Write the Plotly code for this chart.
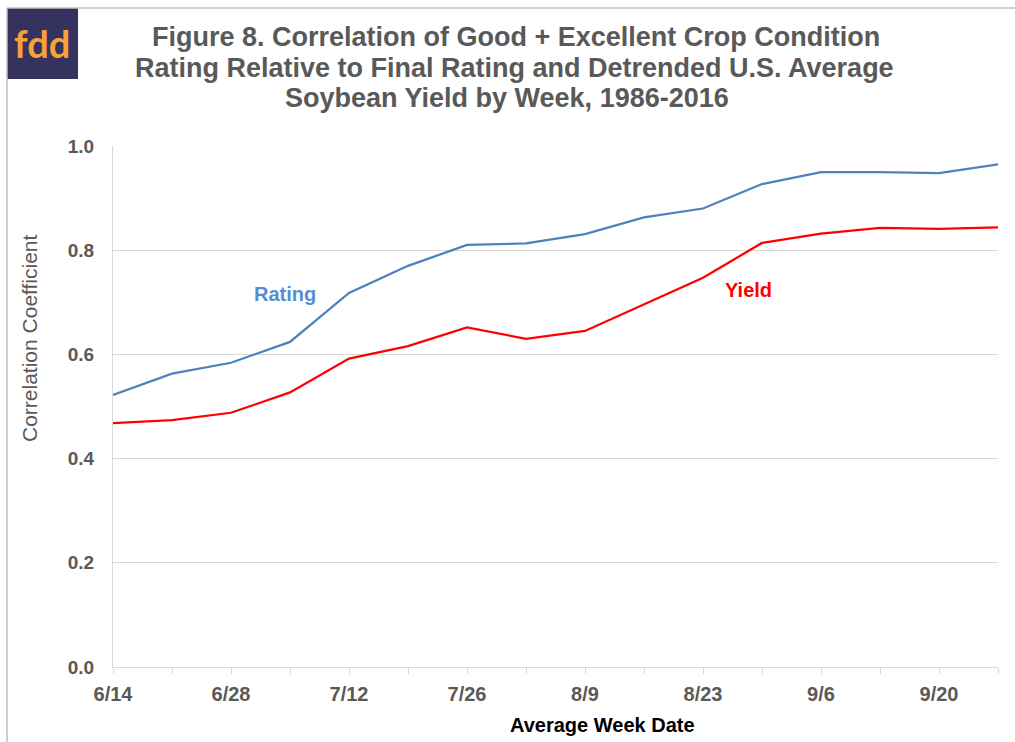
import plotly.graph_objects as go

weeks = ["6/14", "6/21", "6/28", "7/5", "7/12", "7/19", "7/26", "8/2",
         "8/9", "8/16", "8/23", "8/30", "9/6", "9/13", "9/20", "9/27"]
rating = [0.522, 0.563, 0.584, 0.624, 0.718, 0.770, 0.810, 0.813,
          0.831, 0.863, 0.880, 0.927, 0.950, 0.950, 0.948, 0.965]
yield_corr = [0.468, 0.474, 0.488, 0.527, 0.592, 0.616, 0.652, 0.630,
              0.645, 0.696, 0.747, 0.814, 0.832, 0.843, 0.841, 0.844]
tick_labels = [w if i % 2 == 0 else "" for i, w in enumerate(weeks)]
y_ticks = [0.0, 0.2, 0.4, 0.6, 0.8, 1.0]

W, H = 1015, 742
L, R, T, B = 113, 998, 146, 667


def px(x):
    return (x - L) / (R - L)


def py(y):
    return (B - y) / (B - T)


FONT = "Arial, Liberation Sans, sans-serif"
GRAY = "#595959"

fig = go.Figure()
fig.add_trace(go.Scatter(x=weeks, y=rating, mode="lines", name="Rating",
                         line=dict(color="#4f81bd", width=2.25)))
fig.add_trace(go.Scatter(x=weeks, y=yield_corr, mode="lines", name="Yield",
                         line=dict(color="#ff0000", width=2.25)))

fig.update_layout(
    width=W, height=H,
    margin=dict(l=L, r=W - R, t=T, b=H - B),
    paper_bgcolor="white", plot_bgcolor="white",
    showlegend=False,
    font=dict(family=FONT, color=GRAY),
)
fig.update_xaxes(
    type="category", range=[0, len(weeks) - 1],
    tickmode="array", tickvals=weeks, ticktext=tick_labels,
    ticks="outside", ticklen=6, tickcolor="#d9d9d9",
    showline=True, linecolor="#d9d9d9", linewidth=1,
    showgrid=False, ticklabelstandoff=3,
    tickfont=dict(family=FONT, size=20, color=GRAY, weight="bold"),
)
fig.update_yaxes(
    range=[0, 1], tickmode="array", tickvals=y_ticks,
    ticktext=[f"{v:.1f}" for v in y_ticks],
    showline=True, linecolor="#d9d9d9", linewidth=1,
    showgrid=True, gridcolor="#d9d9d9", gridwidth=1,
    zeroline=False, ticks="", ticklabelstandoff=14,
    tickfont=dict(family=FONT, size=19, color=GRAY, weight="bold"),
)

shapes = [
    dict(type="rect", xref="paper", yref="paper",
         x0=px(7), x1=px(78), y0=py(79), y1=py(8),
         fillcolor="#35325f", line=dict(width=0), layer="above"),
    dict(type="line", xref="paper", yref="paper",
         x0=px(7), x1=px(7), y0=py(742), y1=py(8),
         line=dict(color="#bfbfbf", width=1.5)),
    dict(type="line", xref="paper", yref="paper",
         x0=px(7), x1=px(1015), y0=py(8), y1=py(8),
         line=dict(color="#bfbfbf", width=1.5)),
]
fig.update_layout(shapes=shapes)

title_lines = [
    ("Figure 8. Correlation of Good + Excellent Crop Condition", 516, 37),
    ("Rating Relative to Final Rating and Detrended U.S. Average", 514, 68),
    ("Soybean Yield by Week, 1986-2016", 507, 98),
]
ann = []
for text, x, y in title_lines:
    ann.append(dict(text=text, x=px(x), y=py(y), xref="paper", yref="paper",
                    xanchor="center", yanchor="middle", showarrow=False,
                    font=dict(family=FONT, size=27, color=GRAY, weight="bold")))
ann += [
    dict(text="fdd", x=px(42), y=py(43), xref="paper", yref="paper",
         xanchor="center", yanchor="middle", showarrow=False,
         font=dict(family="Lato, Arial, sans-serif", size=38, color="#f7a234",
                   weight="bold")),
    dict(text="Rating", x=px(285), y=py(294), xref="paper", yref="paper",
         xanchor="center", yanchor="middle", showarrow=False,
         font=dict(family=FONT, size=20, color="#558ed5", weight="bold")),
    dict(text="Yield", x=px(748), y=py(290), xref="paper", yref="paper",
         xanchor="center", yanchor="middle", showarrow=False,
         font=dict(family=FONT, size=20, color="#ff0000", weight="bold")),
    dict(text="Average Week Date", x=px(602), y=py(725), xref="paper", yref="paper",
         xanchor="center", yanchor="middle", showarrow=False,
         font=dict(family=FONT, size=20, color="#000000", weight="bold")),
    dict(text="Correlation Coefficient", x=px(29), y=py(338), xref="paper", yref="paper",
         xanchor="center", yanchor="middle", showarrow=False, textangle=-90,
         font=dict(family=FONT, size=21, color=GRAY)),
]
fig.update_layout(annotations=ann)

fig.write_html("out.html", config={"displayModeBar": False},
               post_script="document.body.style.margin='0';document.body.style.padding='0';")
